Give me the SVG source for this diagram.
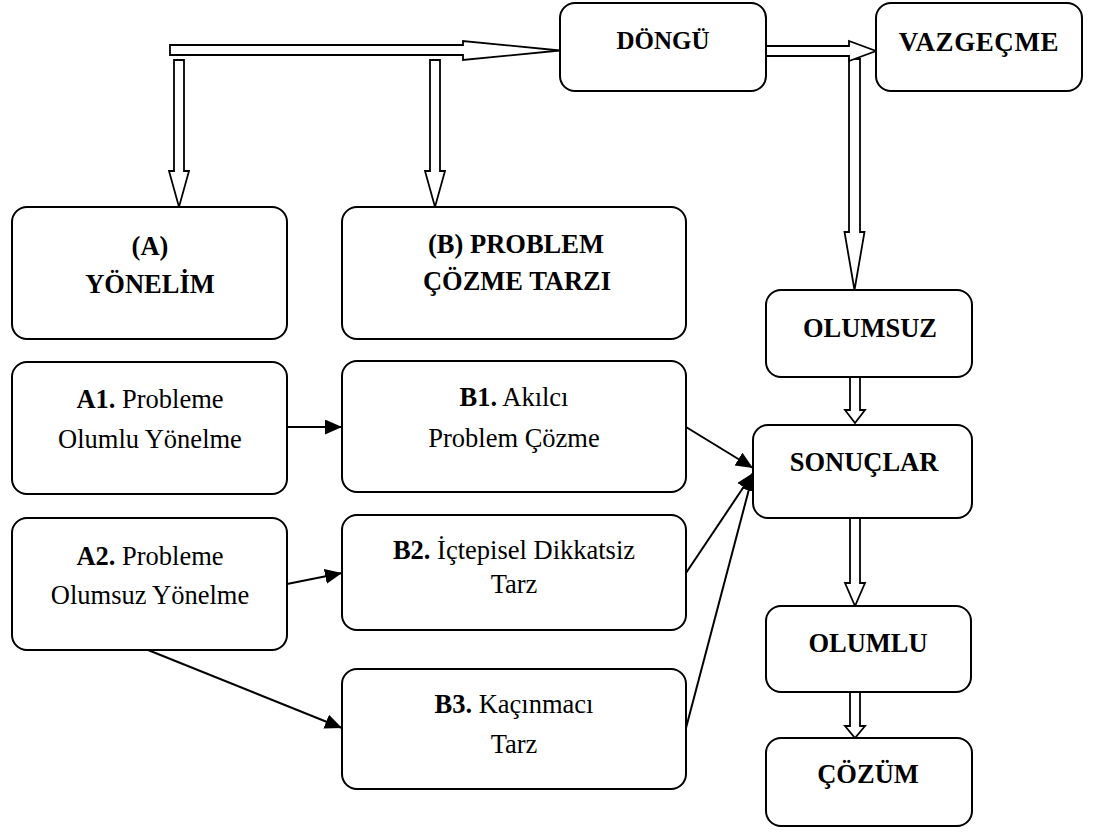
<svg xmlns="http://www.w3.org/2000/svg" width="1096" height="832" viewBox="0 0 1096 832">
  <style>
    .box { fill: #fff; stroke: #000; stroke-width: 2; }
    .blk { fill: #fff; stroke: #000; stroke-width: 1.8; stroke-linejoin: miter; }
    .ln { fill: none; stroke: #000; stroke-width: 2; marker-end: url(#ah); }
    .b { font-weight: bold; }
  </style>
  <defs>
    <marker id="ah" markerUnits="userSpaceOnUse" markerWidth="18" markerHeight="16" refX="17" refY="7.5" orient="auto">
      <path d="M0,0 L17,7.5 L0,15 z" fill="#000"/>
    </marker>
  </defs>
  <rect width="1096" height="832" fill="#fff"/>

  <!-- connectors -->
  <g id="connectors">
    <!-- hollow block arrows -->
    <polygon class="blk" points="170,45 463,45 463,41 560,50.5 463,60 463,55 170,55"/>
    <polygon class="blk" points="174,60 184,60 184,171 189,171 179,207 169,171 174,171"/>
    <polygon class="blk" points="430,60 440,60 440,171 445,171 435,207 425,171 430,171"/>
    <polygon class="blk" points="849,59 860,59 860,232 864.5,232 854.5,290 844.5,232 849,232"/>
    <polygon class="blk" points="766,46 849,46 849,41 876,51 849,61 849,56 766,56"/>
    <polygon class="blk" points="850,377 860,377 860,410 865,410 855,423 845,410 850,410"/>
    <polygon class="blk" points="850,518 860,518 860,583 865,583 855,606 845,583 850,583"/>
    <polygon class="blk" points="850,692 860,692 860,726 865,726 855,738 845,726 850,726"/>
    <!-- plain arrows -->
    <line class="ln" x1="287" y1="427" x2="342" y2="427"/>
    <line class="ln" x1="287" y1="584" x2="342" y2="573"/>
    <line class="ln" x1="148" y1="650" x2="342" y2="728"/>
    <line class="ln" x1="686" y1="427" x2="753" y2="468"/>
    <line class="ln" x1="686" y1="573" x2="753" y2="473"/>
    <line class="ln" x1="686" y1="728" x2="753" y2="474"/>
  </g>

  <g font-family="'Liberation Serif', 'Times New Roman', Times, serif" font-size="26.5" text-anchor="middle" fill="#000">
  <g id="dongu">
    <rect class="box" x="560" y="3" width="206" height="88" rx="15"/>
    <text class="b" x="663" y="49" font-size="25">DÖNGÜ</text>
  </g>
  <g id="vazgecme">
    <rect class="box" x="876" y="3" width="206" height="88" rx="15"/>
    <text class="b" x="979" y="51" font-size="27" letter-spacing="0.6">VAZGEÇME</text>
  </g>
  <g id="yonelim">
    <rect class="box" x="12" y="207" width="275" height="132" rx="15"/>
    <text class="b" x="150" y="255">(A)</text>
    <text class="b" x="150" y="293">YÖNELİM</text>
  </g>
  <g id="problem-cozme-tarzi">
    <rect class="box" x="342" y="207" width="344" height="132" rx="15"/>
    <text class="b" x="516" y="253">(B) PROBLEM</text>
    <text class="b" x="517" y="290">ÇÖZME TARZI</text>
  </g>
  <g id="a1">
    <rect class="box" x="12" y="362" width="275" height="132" rx="15"/>
    <text x="150" y="408"><tspan class="b">A1.</tspan> Probleme</text>
    <text x="150" y="448">Olumlu Yönelme</text>
  </g>
  <g id="a2">
    <rect class="box" x="12" y="518" width="275" height="132" rx="15"/>
    <text x="150" y="565"><tspan class="b">A2.</tspan> Probleme</text>
    <text x="150" y="604">Olumsuz Yönelme</text>
  </g>
  <g id="b1">
    <rect class="box" x="342" y="361" width="344" height="131" rx="15"/>
    <text x="514" y="406"><tspan class="b">B1.</tspan> Akılcı</text>
    <text x="514" y="447">Problem Çözme</text>
  </g>
  <g id="b2">
    <rect class="box" x="342" y="515" width="344" height="115" rx="15"/>
    <text x="514" y="559"><tspan class="b">B2.</tspan> İçtepisel Dikkatsiz</text>
    <text x="514" y="593">Tarz</text>
  </g>
  <g id="b3">
    <rect class="box" x="342" y="669" width="344" height="120" rx="15"/>
    <text x="514" y="713"><tspan class="b">B3.</tspan> Kaçınmacı</text>
    <text x="514" y="753">Tarz</text>
  </g>
  <g id="olumsuz">
    <rect class="box" x="766" y="290" width="206" height="87" rx="15"/>
    <text class="b" x="870" y="337">OLUMSUZ</text>
  </g>
  <g id="sonuclar">
    <rect class="box" x="753" y="425" width="219" height="93" rx="15"/>
    <text class="b" x="864" y="471">SONUÇLAR</text>
  </g>
  <g id="olumlu">
    <rect class="box" x="766" y="606" width="205" height="86" rx="15"/>
    <text class="b" x="868" y="652">OLUMLU</text>
  </g>
  <g id="cozum">
    <rect class="box" x="766" y="738" width="206" height="88" rx="15"/>
    <text class="b" x="868" y="783">ÇÖZÜM</text>
  </g>
  </g>
</svg>
